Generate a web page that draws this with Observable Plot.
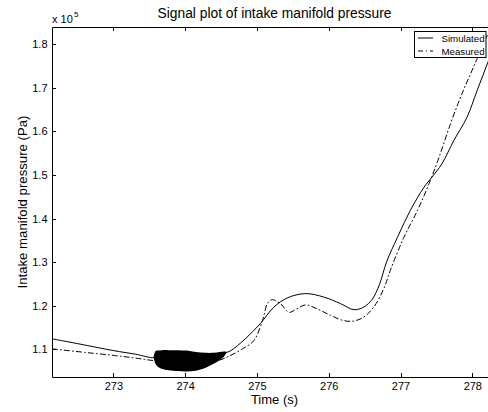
<!DOCTYPE html>
<html><head><meta charset="utf-8">
<script src="https://cdn.jsdelivr.net/npm/d3@7"></script>
<script src="https://cdn.jsdelivr.net/npm/@observablehq/plot@0.6"></script>
<style>
html,body{margin:0;padding:0;background:#fff;overflow:hidden;width:488px;height:412px;}
#chart{position:relative;width:488px;height:412px;overflow:hidden;}
</style></head><body><div id="chart"></div>
<script>
// values in units of 10^5 Pa
const simTime  = [272.146, 272.5, 273.0, 273.3, 273.57, 273.65, 273.84, 274.02, 274.21, 274.39, 274.51, 274.58, 274.63, 274.83, 275.04, 275.23, 275.415, 275.67, 275.925, 276.157, 276.343, 276.48, 276.6, 276.7, 276.8, 276.95, 277.13, 277.32, 277.43, 277.57, 277.735, 277.92, 278.06, 278.22, 278.344];
const simValue = [1.125, 1.114, 1.098, 1.090, 1.082, 1.090, 1.090, 1.088, 1.086, 1.088, 1.090, 1.0945, 1.098, 1.125, 1.160, 1.198, 1.219, 1.229, 1.221, 1.206, 1.192, 1.198, 1.216, 1.250, 1.302, 1.358, 1.420, 1.473, 1.496, 1.527, 1.580, 1.634, 1.695, 1.764, 1.817];

const measTime  = [272.146, 272.6, 273.0, 273.3, 273.57, 274.0, 274.44, 274.6, 274.79, 274.95, 275.07, 275.14, 275.2, 275.32, 275.44, 275.55, 275.67, 275.83, 276.02, 276.2, 276.34, 276.48, 276.62, 276.76, 276.85, 277.04, 277.23, 277.39, 277.53, 277.69, 277.85, 278.01, 278.2, 278.344];
const measValue = [1.102, 1.094, 1.087, 1.081, 1.075, 1.071, 1.075, 1.085, 1.102, 1.121, 1.167, 1.206, 1.215, 1.206, 1.186, 1.194, 1.203, 1.194, 1.179, 1.167, 1.166, 1.175, 1.198, 1.240, 1.282, 1.358, 1.420, 1.481, 1.542, 1.619, 1.688, 1.749, 1.821, 1.875];

// envelope of the fast oscillation of the simulated signal
const blobTime = [273.56, 273.59, 273.62, 273.68, 273.77, 273.9, 274.02, 274.15, 274.28, 274.39, 274.48, 274.54, 274.58];
const blobHigh = [1.082, 1.096, 1.097, 1.098, 1.098, 1.098, 1.097, 1.094, 1.092, 1.092, 1.094, 1.095, 1.0945];
const blobLow  = [1.082, 1.066, 1.060, 1.055, 1.052, 1.050, 1.049, 1.051, 1.057, 1.066, 1.075, 1.083, 1.093];

const xTicks = [273, 274, 275, 276, 277, 278];
const yTicks = [1.1, 1.2, 1.3, 1.4, 1.5, 1.6, 1.7, 1.8];
const xDomain = [272.146, 278.344];
const yDomain = [1.0364, 1.8397];

const titleText = "Signal plot of intake manifold pressure";
const xLabel = "Time (s)";
const yLabel = "Intake manifold pressure (Pa)";
const seriesNames = ["Simulated", "Measured"];
const dashDot = "5,3,1,3";

const sim = simTime.map((t, i) => ({t, v: simValue[i]}));
const meas = measTime.map((t, i) => ({t, v: measValue[i]}));
const blob = blobTime.map((t, i) => ({t, lo: blobLow[i], hi: blobHigh[i]}));

const font = "'Liberation Sans', Arial, Helvetica, sans-serif";

const plot = Plot.plot({
  width: 488, height: 412,
  marginLeft: 52, marginRight: 0, marginTop: 27, marginBottom: 35,
  x: {domain: xDomain, range: [52, 497], label: null},
  y: {domain: yDomain, label: null},
  style: {fontFamily: font, fontSize: "11px", color: "black", background: "white", maxWidth: "none", overflow: "hidden"},
  marks: [
    Plot.areaY(blob, {x: "t", y1: "lo", y2: "hi", fill: "black", curve: "catmull-rom"}),
    Plot.line(sim, {x: "t", y: "v", stroke: "black", strokeWidth: 1, curve: "catmull-rom", clip: true}),
    Plot.line(meas, {x: "t", y: "v", stroke: "black", strokeWidth: 1, strokeDasharray: dashDot, curve: "catmull-rom", clip: true}),
    Plot.axisX(xTicks, {anchor: "bottom", tickSize: 0, tickPadding: 5, label: null}),
    Plot.axisY(yTicks, {anchor: "left", tickSize: 0, tickPadding: 5, label: null, tickFormat: d3.format(".1f")})
  ]
});
document.getElementById("chart").appendChild(plot);

const svg = d3.select(plot);
const xs = plot.scale("x"), ys = plot.scale("y");
const [L, R] = xs.range;
const [B, T] = ys.range;
const tk = 4;
const g = svg.append("g").attr("stroke", "black").attr("stroke-width", 1).attr("fill", "none");
// axes box (left, top, bottom; right side lies outside the window)
g.append("path").attr("d", `M${R},${T + 0.5}H${L + 0.5}V${B + 0.5}H${R}`);
xTicks.forEach(v => {
  const x = Math.round(xs.apply(v)) + 0.5;
  g.append("line").attr("x1", x).attr("x2", x).attr("y1", B).attr("y2", B - tk);
  g.append("line").attr("x1", x).attr("x2", x).attr("y1", T).attr("y2", T + tk);
});
yTicks.forEach(v => {
  const y = Math.round(ys.apply(v)) + 0.5;
  g.append("line").attr("x1", L).attr("x2", L + tk).attr("y1", y).attr("y2", y);
});

const txt = (x, y, s, size, anchor) => svg.append("text").attr("x", x).attr("y", y)
  .attr("text-anchor", anchor).attr("font-family", font).attr("font-size", size).attr("fill", "black").text(s);

const cx = (L + R) / 2, cy = (T + B) / 2;
txt(cx, 17.5, titleText, 13.8, "middle");
txt(cx, 404, xLabel, 13, "middle");
svg.append("text").attr("transform", `translate(26.5,${cy}) rotate(-90)`).attr("text-anchor", "middle")
  .attr("font-family", font).attr("font-size", 13.2).attr("fill", "black").text(yLabel);
txt(L, 22.7, "x 10", 11, "start");
txt(74, 16.7, "5", 8, "start");

// legend
const lg = svg.append("g");
lg.append("rect").attr("x", 414.5).attr("y", 31.5).attr("width", 71.5).attr("height", 26)
  .attr("fill", "white").attr("stroke", "black").attr("stroke-width", 1);
lg.append("line").attr("x1", 418).attr("x2", 433).attr("y1", 38).attr("y2", 38).attr("stroke", "black").attr("stroke-width", 1);
lg.append("line").attr("x1", 418).attr("x2", 433).attr("y1", 51).attr("y2", 51).attr("stroke", "black").attr("stroke-width", 1).attr("stroke-dasharray", dashDot);
lg.append("text").attr("x", 441.5).attr("y", 41.7).attr("text-anchor", "start").attr("font-family", font).attr("font-size", 9.7).attr("fill", "black").text(seriesNames[0]);
lg.append("text").attr("x", 441.5).attr("y", 55).attr("text-anchor", "start").attr("font-family", font).attr("font-size", 9.7).attr("fill", "black").text(seriesNames[1]);
</script></body></html>
